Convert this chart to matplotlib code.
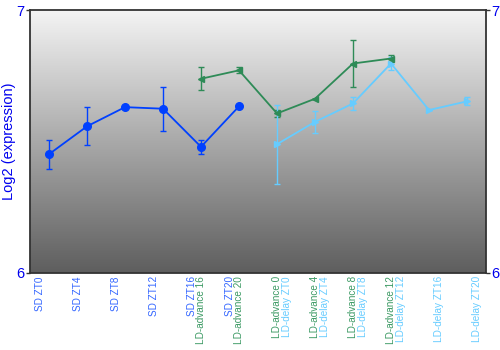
import numpy as np
import matplotlib
matplotlib.use("Agg")
import matplotlib.pyplot as plt
import matplotlib.transforms as mtransforms
from matplotlib.colors import LinearSegmentedColormap

plt.rcParams['font.family'] = ['Liberation Sans', 'DejaVu Sans']

# Data
sd_labels = ["SD ZT0", "SD ZT4", "SD ZT8", "SD ZT12", "SD ZT16", "SD ZT20"]
sd_pos = [0, 1, 2, 3, 4, 5]
sd_vals = [6.452, 6.558, 6.631, 6.625, 6.480, 6.634]
sd_err = [0.055, 0.072, 0.0, 0.084, 0.027, 0.0]

adv_labels = ["LD-advance 16", "LD-advance 20", "LD-advance 0", "LD-advance 4", "LD-advance 8", "LD-advance 12"]
adv_pos = [4, 5, 6, 7, 8, 9]
adv_vals = [6.739, 6.771, 6.607, 6.663, 6.797, 6.816]
adv_err = [0.044, 0.011, 0.015, 0.0, 0.09, 0.013]

del_labels = ["LD-delay ZT0", "LD-delay ZT4", "LD-delay ZT8", "LD-delay ZT12", "LD-delay ZT16", "LD-delay ZT20"]
del_pos = [6, 7, 8, 9, 10, 11]
del_vals = [6.490, 6.575, 6.645, 6.797, 6.620, 6.653]
del_err = [0.15, 0.042, 0.025, 0.025, 0.0, 0.015]

c_sd = "#0040ff"
c_adv = "#2e8b57"
c_del = "#66ccff"
c_sd_txt = "#3366ff"
c_adv_txt = "#3c9a64"
c_del_txt = "#66ccff"

fig = plt.figure(figsize=(5, 3.5), dpi=100)
ax = fig.add_axes([0.06, 0.22, 0.912, 0.751])

ax.set_xlim(-0.5, 11.5)
ax.set_ylim(6, 7)

# gradient background
grad = np.linspace(0, 1, 256).reshape(-1, 1)
cmap = LinearSegmentedColormap.from_list("bg", ["#f4f4f4", "#5e5e5e"])
ax.imshow(grad, cmap=cmap, aspect='auto', extent=[0, 1, 0, 1],
          transform=ax.transAxes, zorder=0, origin='upper')

def draw(pos, vals, err, color, marker, ms):
    ax.errorbar(pos, vals, yerr=err, color=color, marker=marker, ms=ms,
                lw=1.3, elinewidth=1.0, capsize=2.2, capthick=1.0,
                mec=color, mfc=color, zorder=3)

draw(sd_pos, sd_vals, sd_err, c_sd, 'o', 5.5)
draw(adv_pos, adv_vals, adv_err, c_adv, '<', 4.5)
draw(del_pos, del_vals, del_err, c_del, '>', 4.5)

ax.set_xticks([])
ax.set_yticks([6, 7])
ax.set_yticklabels(["6", "7"])
ax.tick_params(axis='y', which='both', left=True, right=True, labelleft=True,
               labelright=True, length=3, width=1, colors='#333333',
               labelcolor='#0000ee', labelsize=10.5, pad=1)

for s in ax.spines.values():
    s.set_color('#333333')
    s.set_linewidth(1.3)

ax.set_ylabel("Log2 (expression)", color='#0000ee', fontsize=10.5)
ax.yaxis.set_label_coords(-0.03, 0.5)

trans = mtransforms.blended_transform_factory(ax.transData, ax.transAxes)
fs = 7.2
for p, l in zip(sd_pos, sd_labels):
    ax.text(p - 0.24, -0.012, l, rotation=90, ha='center', va='top',
            color=c_sd_txt, fontsize=fs, transform=trans)
for p, l in zip(adv_pos, adv_labels):
    ax.text(p + 0.0, -0.012, l, rotation=90, ha='center', va='top',
            color=c_adv_txt, fontsize=fs, transform=trans)
for p, l in zip(del_pos, del_labels):
    ax.text(p + 0.27, -0.012, l, rotation=90, ha='center', va='top',
            color=c_del_txt, fontsize=fs, transform=trans)

fig.savefig("out.png", dpi=100)
